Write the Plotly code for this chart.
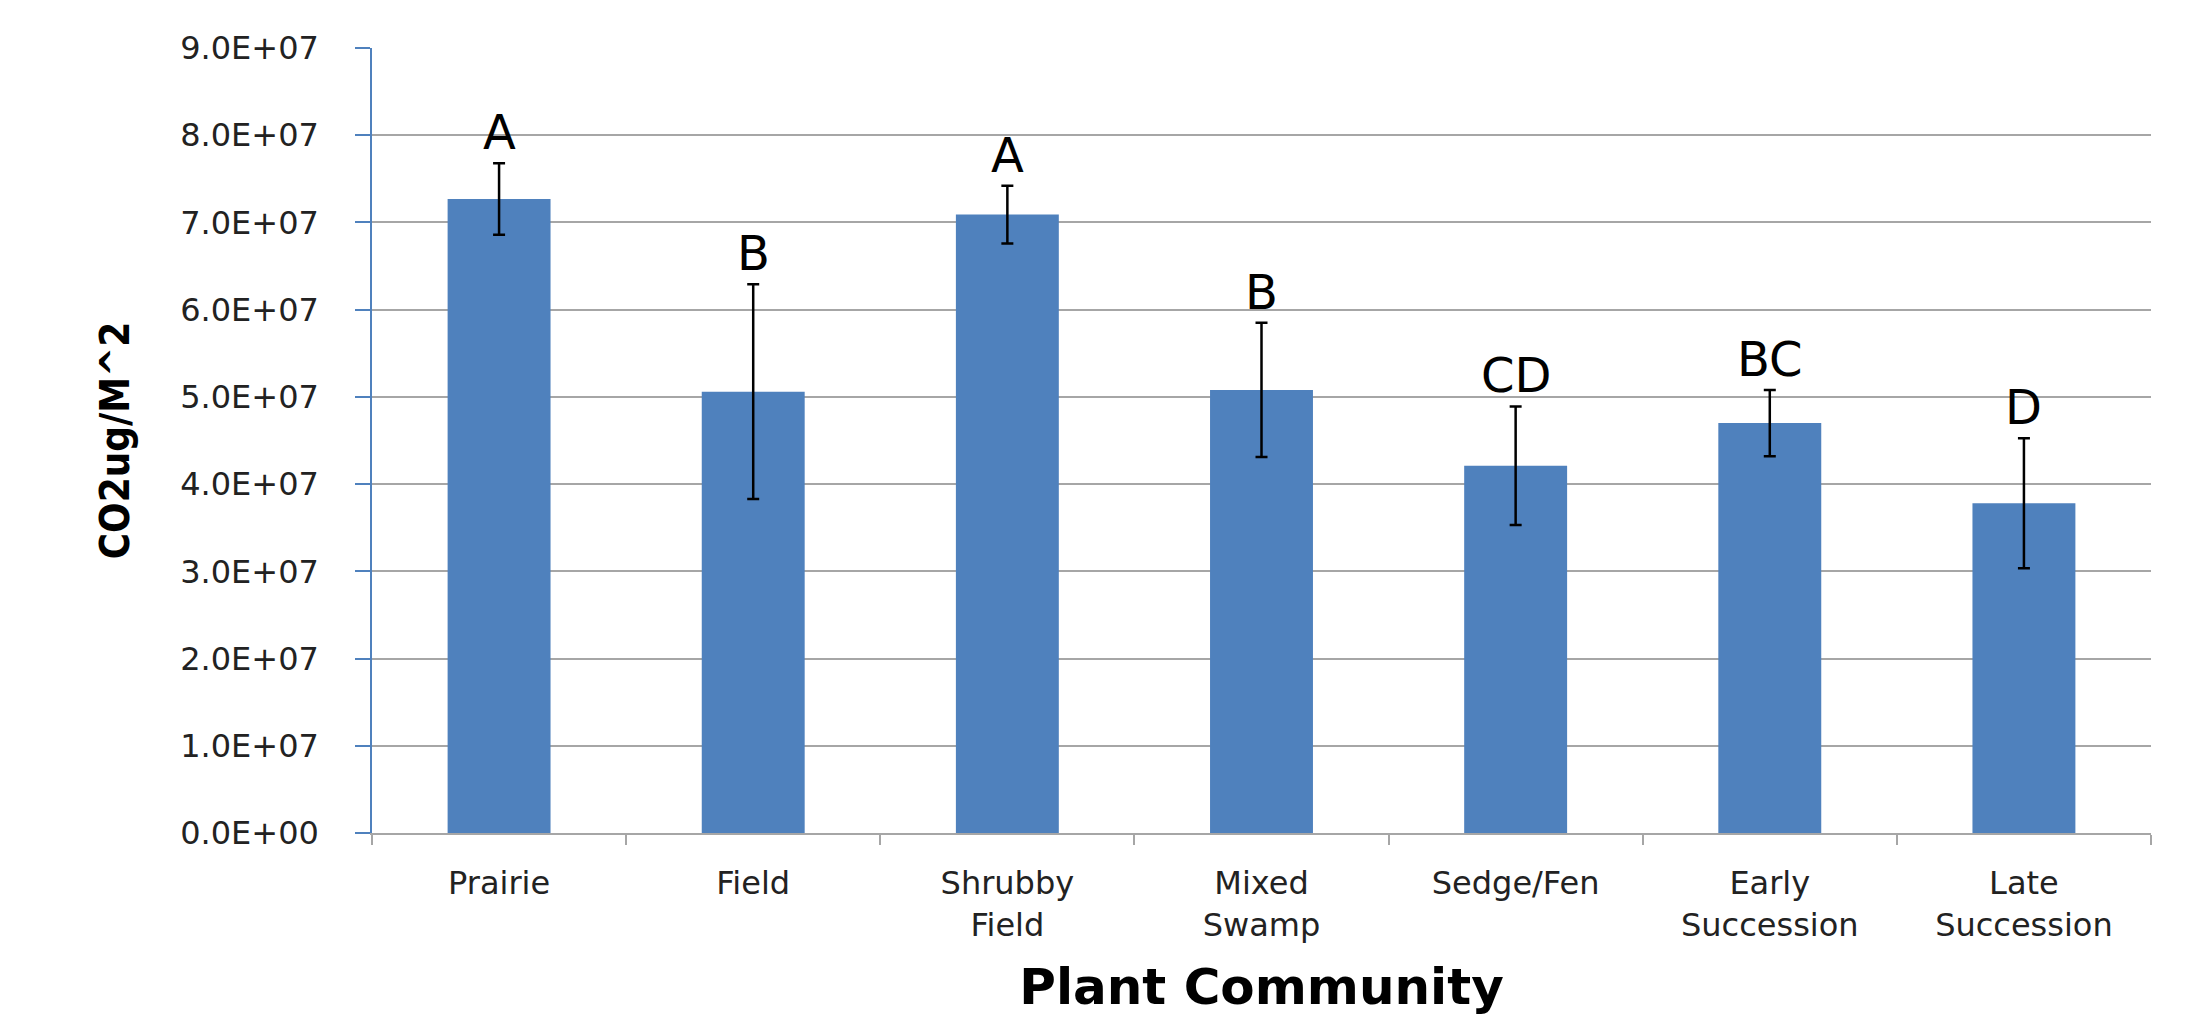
import plotly.graph_objects as go

categories = ["Prairie", "Field", "Shrubby Field", "Mixed Swamp", "Sedge/Fen",
              "Early Succession", "Late Succession"]
tick_labels = ["Prairie", "Field", "Shrubby<br>Field", "Mixed<br>Swamp", "Sedge/Fen",
               "Early<br>Succession", "Late<br>Succession"]
means = [7.27e7, 5.06e7, 7.09e7, 5.08e7, 4.21e7, 4.70e7, 3.78e7]
errors = [0.41e7, 1.23e7, 0.33e7, 0.77e7, 0.68e7, 0.38e7, 0.745e7]
letters = ["A", "B", "A", "B", "CD", "BC", "D"]
y_tick_vals = [0, 1e7, 2e7, 3e7, 4e7, 5e7, 6e7, 7e7, 8e7, 9e7]
y_tick_text = ["0.0E+00", "1.0E+07", "2.0E+07", "3.0E+07", "4.0E+07",
               "5.0E+07", "6.0E+07", "7.0E+07", "8.0E+07", "9.0E+07"]

BAR = "#4F81BD"
GRID = "#A6A6A6"

fig = go.Figure()
fig.add_trace(go.Bar(
    x=categories, y=means,
    marker=dict(color=BAR, line=dict(width=0)),
    error_y=dict(type="data", array=errors, visible=True,
                 color="black", thickness=2.5, width=6),
    showlegend=False,
))

for c, m, e, t in zip(categories, means, errors, letters):
    fig.add_annotation(x=c, y=m + e, text=t, showarrow=False,
                       yanchor="bottom", yshift=1,
                       font=dict(family="DejaVu Sans, sans-serif",
                                 size=48, color="black"))

fig.update_layout(
    width=2200, height=1018,
    margin=dict(l=372, r=49, t=48, b=185),
    paper_bgcolor="white", plot_bgcolor="white",
    bargap=0.595,
)

fig.update_xaxes(
    type="category", automargin=False,
    tickvals=categories, ticktext=tick_labels,
    showline=True, linecolor=GRID, linewidth=2,
    ticks="outside", ticklen=10, tickwidth=2, tickcolor=GRID,
    tickson="boundaries",
    showgrid=False,
    tickfont=dict(family="DejaVu Sans, sans-serif", size=32, color="#222222"),
    ticklabelstandoff=21,
    title=dict(text="<b>Plant Community</b>", standoff=26,
               font=dict(family="DejaVu Sans, sans-serif", size=50, color="black")),
)

fig.update_yaxes(
    range=[0, 9e7], automargin=False,
    tickvals=y_tick_vals, ticktext=y_tick_text,
    showgrid=True, gridcolor=GRID, gridwidth=1.5,
    zeroline=False,
    showline=True, linecolor=BAR, linewidth=1.5,
    ticks="outside", ticklen=15, tickwidth=1.5, tickcolor=BAR,
    tickfont=dict(family="DejaVu Sans, sans-serif", size=32, color="#222222"),
    ticklabelstandoff=30,
    title=dict(text="<b>CO2ug/M^2</b>", standoff=38,
               font=dict(family="DejaVu Sans Condensed, sans-serif",
                         size=40, color="black")),
)

fig.write_html("out.html", config={"displayModeBar": False},
               post_script="document.body.style.margin='0';")
